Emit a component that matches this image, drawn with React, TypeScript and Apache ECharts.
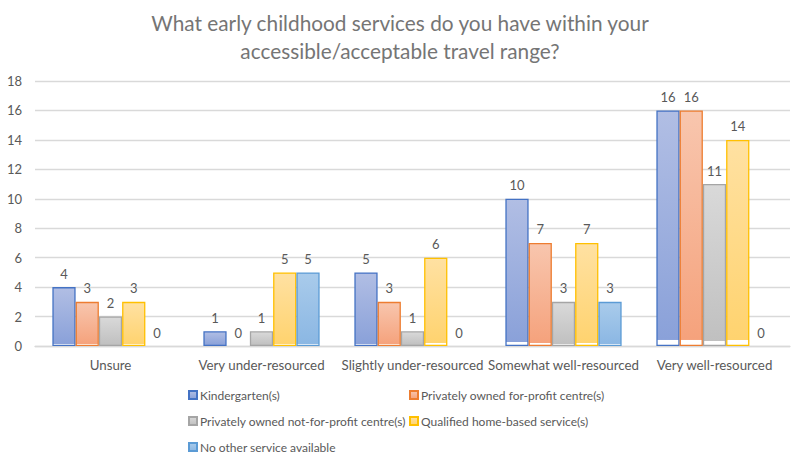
import React, { useEffect, useRef } from "react";
import * as echarts from "echarts";

const categories = [
  "Unsure",
  "Very under-resourced",
  "Slightly under-resourced",
  "Somewhat well-resourced",
  "Very well-resourced",
];
const seriesNames = [
  "Kindergarten(s)",
  "Privately owned for-profit centre(s)",
  "Privately owned not-for-profit centre(s)",
  "Qualified home-based service(s)",
  "No other service available",
];
const kindergarten = [4, 1, 5, 10, 16];
const forProfit = [3, 0, 3, 7, 16];
const notForProfit = [2, 1, 1, 3, 11];
const homeBased = [3, 5, 6, 7, 14];
const noOther = [0, 5, 0, 3, 0];
const seriesValues = [kindergarten, forProfit, notForProfit, homeBased, noOther];

const borderColors = ["#4472c4", "#ed7d31", "#a5a5a5", "#ffc000", "#5b9bd5"];
const topColors = ["#b1bee4", "#f8c6ae", "#d9d9d9", "#ffe1a2", "#a9cbeb"];
const bottomColors = ["#8aa1d9", "#f5a27c", "#c0c0c0", "#ffd36f", "#8bb7e3"];

const FONT = "Lato, 'Liberation Sans', sans-serif";
const GREY = "#595959";

export default function App() {
  const ref = useRef<HTMLDivElement>(null);
  useEffect(() => {
    if (!ref.current) return;
    const chart = echarts.init(ref.current, undefined, { renderer: "svg" });
    const series = seriesNames.map((name, i) => ({
      name,
      type: "bar",
      data: seriesValues[i].map((v) =>
        v === 0
          ? { value: v, itemStyle: { borderWidth: 0, color: "rgba(0,0,0,0)" } }
          : v
      ),
      barGap: "0%",
      barCategoryGap: "23%",
      itemStyle: {
        color: new echarts.graphic.LinearGradient(0, 0, 0, 1, [
          { offset: 0, color: topColors[i] },
          { offset: 0.975, color: bottomColors[i] },
          { offset: 0.976, color: "#ffffff" },
          { offset: 1, color: "#ffffff" },
        ]),
        borderColor: borderColors[i],
        borderWidth: 1.3,
      },
      label: {
        show: true,
        position: "top",
        distance: 7,
        color: GREY,
        fontSize: 13,
        fontFamily: FONT,
      },
    }));
    const legendCommon = {
      orient: "vertical",
      itemWidth: 8,
      itemHeight: 8,
      itemGap: 12,
      icon: "rect",
      textStyle: { color: GREY, fontSize: 12, fontFamily: FONT, lineHeight: 14, padding: [0, 0, 0, -2] },
      padding: 0,
      selectedMode: false,
    };
    chart.setOption({
      animation: false,
      backgroundColor: "#ffffff",
      title: {
        text: "What early childhood services do you have within your\naccessible/acceptable travel range?",
        left: "center",
        top: 3,
        textStyle: {
          color: "#757575",
          fontSize: 20.8,
          fontWeight: "normal",
          fontFamily: FONT,
          lineHeight: 28,
        },
      },
      legend: [
        { ...legendCommon, left: 188, top: 388, data: [seriesNames[0], seriesNames[2], seriesNames[4]] },
        { ...legendCommon, left: 409, top: 388, data: [seriesNames[1], seriesNames[3]] },
      ],
      grid: { left: 35, right: 10, top: 81, bottom: 118, containLabel: false },
      xAxis: {
        type: "category",
        data: categories,
        axisLine: { lineStyle: { color: "#d9d9d9", width: 1.3 } },
        axisTick: { show: false },
        axisLabel: { color: GREY, fontSize: 13.3, fontFamily: FONT, margin: 12, interval: 0 },
      },
      yAxis: {
        type: "value",
        min: 0,
        max: 18,
        interval: 2,
        axisLine: { show: false },
        axisTick: { show: false },
        splitLine: { lineStyle: { color: "#d9d9d9", width: 1.3 } },
        axisLabel: { color: GREY, fontSize: 13, fontFamily: FONT, margin: 13 },
      },
      series,
    });
    return () => chart.dispose();
  }, []);
  return <div ref={ref} style={{ width: 800, height: 464, position: "absolute", left: 0, top: 0 }} />;
}
